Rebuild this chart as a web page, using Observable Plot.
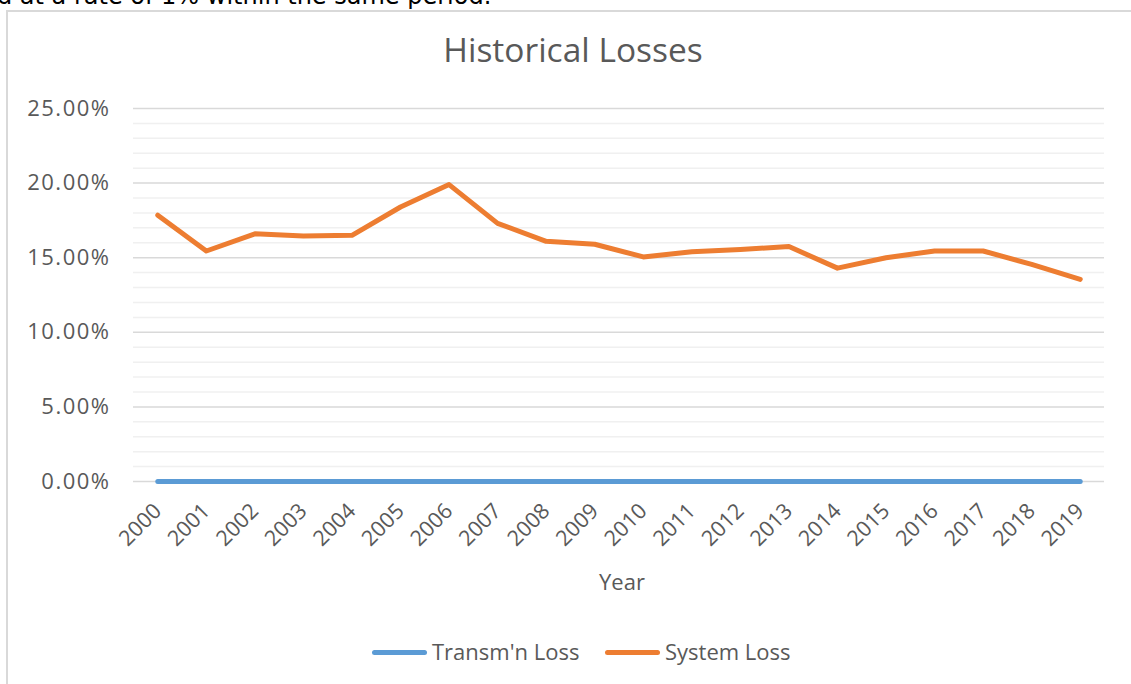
<!DOCTYPE html>
<html>
<head>
<meta charset="utf-8">
<script src="https://cdn.jsdelivr.net/npm/d3@7"></script>
<script src="https://cdn.jsdelivr.net/npm/@observablehq/plot@0.6"></script>
<style>
  body { margin: 0; background: #fff; }
  #page { position: relative; width: 1131px; height: 684px; overflow: hidden; font-family: "Open Sans", sans-serif; color: #595959; }
  #topnote { position: absolute; left: -3px; top: -16.3px; font-family: "DejaVu Sans", sans-serif; font-size: 24px; line-height: 1; color: #000; white-space: nowrap; }
  #frame { position: absolute; left: 6px; top: 10px; width: 1140px; height: 700px; border: 2px solid #d9d9d9; box-sizing: border-box; }
  #title { position: absolute; left: 323px; width: 500px; top: 33px; text-align: center; font-size: 33.5px; line-height: 1; color: #595959; white-space: nowrap; }
  #xlabel { position: absolute; left: 522px; width: 200px; top: 569.5px; text-align: center; font-size: 22px; line-height: 1; white-space: nowrap; }
  #chart { position: absolute; left: 0; top: 0; }
  .sw { position: absolute; height: 5px; border-radius: 3px; }
  .lt { position: absolute; font-size: 22px; line-height: 1; white-space: nowrap; color: #595959; }
</style>
</head>
<body>
<div id="page">
  <div id="topnote">d at a rate of 1% within the same period.</div>
  <div id="frame"></div>
  <div id="title">Historical Losses</div>
  <div id="chart"></div>
  <div id="xlabel">Year</div>
  <div id="legend"></div>
</div>
<script>
// ---- data ----
const years = ["2000","2001","2002","2003","2004","2005","2006","2007","2008","2009",
               "2010","2011","2012","2013","2014","2015","2016","2017","2018","2019"];
const systemLoss = [17.85, 15.45, 16.6, 16.45, 16.5, 18.4, 19.9, 17.3, 16.1, 15.9,
                    15.05, 15.4, 15.55, 15.75, 14.3, 15.0, 15.45, 15.45, 14.55, 13.55];
const transmLoss = [0, 0, 0, 0, 0, 0, 0, 0, 0, 0,
                    0, 0, 0, 0, 0, 0, 0, 0, 0, 0];
const yTicks = [0, 5, 10, 15, 20, 25];
const minorTicks = [1, 2, 3, 4, 6, 7, 8, 9, 11, 12, 13, 14, 16, 17, 18, 19, 21, 22, 23, 24];
const seriesNames = ["Transm'n Loss", "System Loss"];
const seriesColors = ["#5B9BD5", "#ED7D31"];

const table = years.map((y, i) => ({year: y, transm: transmLoss[i], system: systemLoss[i]}));

const chart = Plot.plot({
  width: 1131,
  height: 620,
  marginLeft: 133,
  marginRight: 27,
  marginTop: 108,
  marginBottom: 139,
  style: {fontFamily: "'Open Sans', sans-serif", color: "#595959", background: "transparent", overflow: "visible"},
  x: {type: "point", domain: years, padding: 0.5, round: false, label: null},
  y: {domain: [0, 25], label: null},
  marks: [
    Plot.ruleY(minorTicks, {stroke: "#f0f0f0", strokeWidth: 1.5}),
    Plot.ruleY(yTicks, {stroke: "#d9d9d9", strokeWidth: 1.5}),
    Plot.axisY(yTicks, {tickSize: 0, tickPadding: 23, tickFormat: d => d.toFixed(2) + "%", fontSize: 22, fill: "#595959", label: null}),
    Plot.axisX(years, {tickSize: 0, tickRotate: -45, tickPadding: 26, fontSize: 21.5, fill: "#595959", label: null}),
    Plot.line(table, {x: "year", y: "transm", stroke: seriesColors[0], strokeWidth: 5, strokeLinecap: "round", strokeLinejoin: "round"}),
    Plot.line(table, {x: "year", y: "system", stroke: seriesColors[1], strokeWidth: 5, strokeLinecap: "round", strokeLinejoin: "round"})
  ]
});
chart.querySelectorAll("g[aria-label='y-axis tick label'] text").forEach(t => t.style.letterSpacing = "1.5px");
document.getElementById("chart").appendChild(chart);

// ---- legend ----
const legend = document.getElementById("legend");
const legendPos = [{sw: 372, tx: 432}, {sw: 605, tx: 665}];
seriesNames.forEach((name, i) => {
  const s = document.createElement("div");
  s.className = "sw";
  s.style.left = legendPos[i].sw + "px";
  s.style.top = "649.5px";
  s.style.width = "55px";
  s.style.background = seriesColors[i];
  legend.appendChild(s);
  const t = document.createElement("div");
  t.className = "lt";
  t.style.left = legendPos[i].tx + "px";
  t.style.top = "640px";
  t.textContent = name;
  legend.appendChild(t);
});
</script>
</body>
</html>
